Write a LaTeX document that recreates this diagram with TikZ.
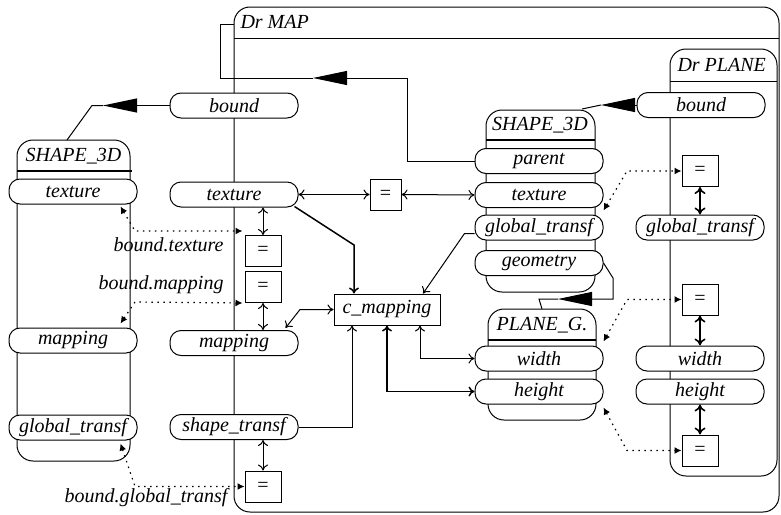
\documentclass[tikz,border=0pt]{standalone}
\usepackage{fontspec}
\setmainfont{Liberation Serif}
\usetikzlibrary{arrows.meta}
\begin{document}
\begin{tikzpicture}[x=1pt,y=-1pt,line width=1pt,
  every node/.style={font=\fontsize{20}{24}\selectfont\itshape, inner sep=0pt},
  >={To[length=6pt,width=10pt]},
  attr/.style={draw, fill=white, rounded corners=11pt, minimum width=128pt, minimum height=25pt, line width=1pt},
  eqbox/.style={draw, fill=white, minimum width=36pt, minimum height=31pt, line width=1pt, font=\fontsize{20}{24}\selectfont},
  cbox/.style={draw, fill=white, minimum width=106pt, minimum height=31pt, line width=1pt},
  bigtri/.style={-{Triangle[length=34pt,width=14pt]}},
  heavy/.style={line width=1.6pt, {To[length=7pt,width=11pt]}-{To[length=7pt,width=11pt]}},
  dotarr/.style={line width=1.2pt, dash pattern=on 1.5pt off 4.5pt, {Latex[length=7pt,width=7pt]}-{Latex[length=7pt,width=7pt]}},
  grp/.style={line width=1pt, rounded corners=16pt}
]
\useasboundingbox (0,0) rectangle (781,514);

% ---- container boxes ----
\draw[grp] (234,7) rectangle (779,512);
\draw (234,38) -- (779,38);
\node[anchor=west] (tdm) at (240,22) {Dr MAP};

\draw[grp] (670,49) rectangle (777,476);
\draw (670,81) -- (777,81);
\node[anchor=west] (tdp) at (677,65) {Dr PLANE};

\draw[grp] (17,140) rectangle (130,461);
\draw[line width=2pt] (17,171) -- (132,171);
\node (tsL) at (73.5,156) {SHAPE\_3D};

\draw[grp] (486,110) rectangle (595,292);
\draw[line width=1.3pt] (486,140) -- (595,140);
\node (tsR) at (540,125) {SHAPE\_3D};

\draw[grp] (488,309) rectangle (596,420);
\draw[line width=1.5pt] (488,340) -- (596,340);
\node (tpg) at (542,325) {PLANE\_G.};

% ---- attribute nodes ----
\node[attr] (bM) at (234,105.5) {bound};
\node[attr] (tM) at (234,194.5) {texture};
\node[attr] (mM) at (234,343) {mapping};
\node[attr] (sM) at (234,427) {shape\_transf};

\node[attr] (tL) at (73,191.5) {texture};
\node[attr] (mL) at (73,340.5) {mapping};
\node[attr] (gL) at (73,427.5) {global\_transf};

\node[attr] (pR) at (539,161) {parent};
\node[attr] (tR) at (539,195) {texture};
\node[attr] (gR) at (539,227.5) {global\_transf};
\node[attr] (geoR) at (539,263) {geometry};

\node[attr] (wR) at (539,358.5) {width};
\node[attr] (hR) at (539,391.5) {height};

\node[attr] (bP) at (701,105) {bound};
\node[attr] (gP) at (700,227.5) {global\_transf};
\node[attr] (wP) at (700,358.5) {width};
\node[attr] (hP) at (700,391.5) {height};

% ---- equality boxes ----
\node[eqbox] (eq1) at (263,251) {=};
\node[eqbox] (eq2) at (263,287) {=};
\node[eqbox] (eq3) at (263,486.5) {=};
\node[eqbox, minimum width=31pt] (eqm) at (385.5,194.5) {=};
\node[eqbox] (eqP1) at (700,171) {=};
\node[eqbox] (eqP2) at (700,299.5) {=};
\node[eqbox] (eqP3) at (700,450.5) {=};

\node[cbox] (cmap) at (387,309.5) {c\_mapping};

% ---- labels ----
\node[anchor=east] (lb1) at (224,245) {bound.texture};
\node[anchor=east] (lb2) at (224,285) {bound.mapping};
\node[anchor=east] (lb3) at (228,498) {bound.global\_transf};

% ---- big filled-arrow references ----
\coordinate (sLtop) at (67,140);
\draw[bigtri] (bM.west) -- (103,105.5);
\draw (103,105.5) -- (92,105.5) -- (sLtop);

\draw[bigtri] (pR.west) -- (407,161) -- (407,78) -- (313,78);
\draw (313,78) -- (220,78) -- (220,24) -- (234,24);

\coordinate (sRtop) at (582,109);
\draw[bigtri] (bP.west) -- (601,105);
\draw (601,105) -- (sRtop);

\draw[bigtri] (geoR.east) -- (613,278) -- (613,299) -- (558,299);
\draw (558,299) -- (539,299) -- (tpg.north |- 0,309);

% ---- c_mapping connections ----
\draw[->, line width=1.5pt] ([xshift=-4pt,yshift=1pt]tM.south east) -- (354,245) -- (354,0 |- cmap.north);
\draw[->] ([yshift=-6pt]gR.west) -- ++(-10,0) -- (423,0 |- cmap.north);
\draw[<->] ([xshift=-13pt,yshift=2pt]mM.north east) -- (300,309.5) -- (cmap.west);
\draw[->] (sM.east) -- (352,0 |- sM.east) -- (352,0 |- cmap.south);
\draw[<->, line width=1.5pt] (cmap.south) -- (387,0 |- hR.west) -- (hR.west);
\draw[<->] (420,0 |- cmap.south) -- (420,0 |- wR.west) -- (wR.west);

% ---- equality double arrows ----
\draw[<->] (tM.east) -- (eqm.west);
\draw[<->] (eqm.east) -- (tR.west);
\draw[<->] (eq1.north) -- (eq1.north |- tM.south);
\draw[<->] (eq2.south) -- (eq2.south |- mM.north);
\draw[<->] (eq3.north) -- (eq3.north |- sM.south);
\draw[heavy] (eqP1.south) -- (eqP1.south |- gP.north);
\draw[heavy] (eqP2.south) -- (eqP2.south |- wP.north);
\draw[heavy] (eqP3.north) -- (eqP3.north |- hP.south);

% ---- dotted bindings ----
\draw[dotarr] ([xshift=-17pt,yshift=-2pt]tL.south east) -- (135,231) -- ([xshift=-2pt,yshift=4pt]eq1.north west);
\draw[dotarr] ([xshift=-17pt,yshift=4pt]mL.north east) -- (135,302) -- ([xshift=-2pt]eq2.south west);
\draw[dotarr] ([xshift=-17pt,yshift=-3pt]gL.south east) -- (135,486.5) -- (eq3.west);
\draw[dotarr] ([yshift=4pt]gR.north east) -- (627,171) -- (eqP1.west);
\draw[dotarr] ([yshift=4pt]wR.north east) -- (627,299.5) -- (eqP2.west);
\draw[dotarr] ([yshift=-3pt]hR.south east) -- (627,450.5) -- (eqP3.west);
\end{tikzpicture}
\end{document}
